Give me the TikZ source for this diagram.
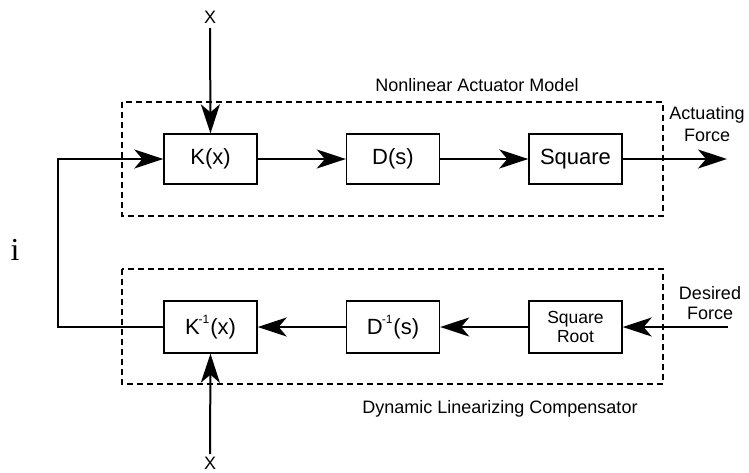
\documentclass[tikz,border=0pt]{standalone}
\usepackage{fontspec}
\setmainfont{Liberation Sans}
\newfontfamily\serifi{Liberation Serif}
\usetikzlibrary{arrows.meta}
\tikzset{
  blk/.style={draw, line width=1.4pt, minimum width=93pt, minimum height=50pt, inner sep=0pt, font=\fontsize{22}{24}\selectfont},
  sblk/.style={blk, font=\fontsize{17.5}{20}\selectfont, align=center},
  frame/.style={draw, line width=1.8pt, dash pattern=on 6pt off 4pt},
  con/.style={line width=2pt, -{Stealth[length=29pt, width=19pt, inset=8pt]}},
  lbl/.style={font=\fontsize{18}{22}\selectfont, align=center, inner sep=0pt},
}
\newcommand{\supm}{\raisebox{0.9ex}{\fontsize{12}{12}\selectfont -1}}
\begin{document}
\begin{tikzpicture}[x=1pt, y=-1pt]
\useasboundingbox (0,0) rectangle (749,472);
% dashed frames
\draw[frame] (122,102) rectangle (663,216);
\draw[frame] (122,269) rectangle (663,384);
% blocks
\node[blk] (K) at (210.5,159) {K(x)};
\node[blk] (D) at (393,159) {D(s)};
\node[blk] (Sq) at (575.5,159) {Square};
\node[blk, minimum height=52pt] (Ki) at (210.5,327) {K\kern-1pt\supm\kern1pt(x)};
\node[blk, minimum height=52pt] (Di) at (393,327) {D\kern-1pt\supm\kern1pt(s)};
\node[sblk, minimum height=52pt] (SR) at (575.5,327) {Square\\[-1pt]Root};
% labels
\node[lbl] (xt) at (210,17) {X};
\node[lbl] (xb) at (210,463) {X};
\node[lbl] (nam) at (477,85) {Nonlinear Actuator Model};
\node[lbl] (dlc) at (500,409) {Dynamic Linearizing Compensator};
\node[lbl] (af) at (707,124) {Actuating\\Force};
\node[lbl, font=\fontsize{18}{20}\selectfont] (df) at (710,303) {Desired\\Force};
\node[inner sep=0pt, font=\serifi\fontsize{32}{32}\selectfont] (ii) at (15,250) {i};
% coordinates
\coordinate (xts) at (210,28);
\coordinate (xbs) at (210,454);
\coordinate (out) at (727,159);
\coordinate (din) at (728,327);
\coordinate (fb) at (58,327);
% connectors
\draw[con] (xts) -- (K.north);
\draw[con] (xbs) -- (Ki.south);
\draw[con] (K) -- (D);
\draw[con] (D) -- (Sq);
\draw[con] (Sq) -- (out);
\draw[con] (din) -- (SR);
\draw[con] (SR) -- (Di);
\draw[con] (Di) -- (Ki);
\draw[con] (Ki.west) -- (fb) |- (K.west);
\end{tikzpicture}
\end{document}
